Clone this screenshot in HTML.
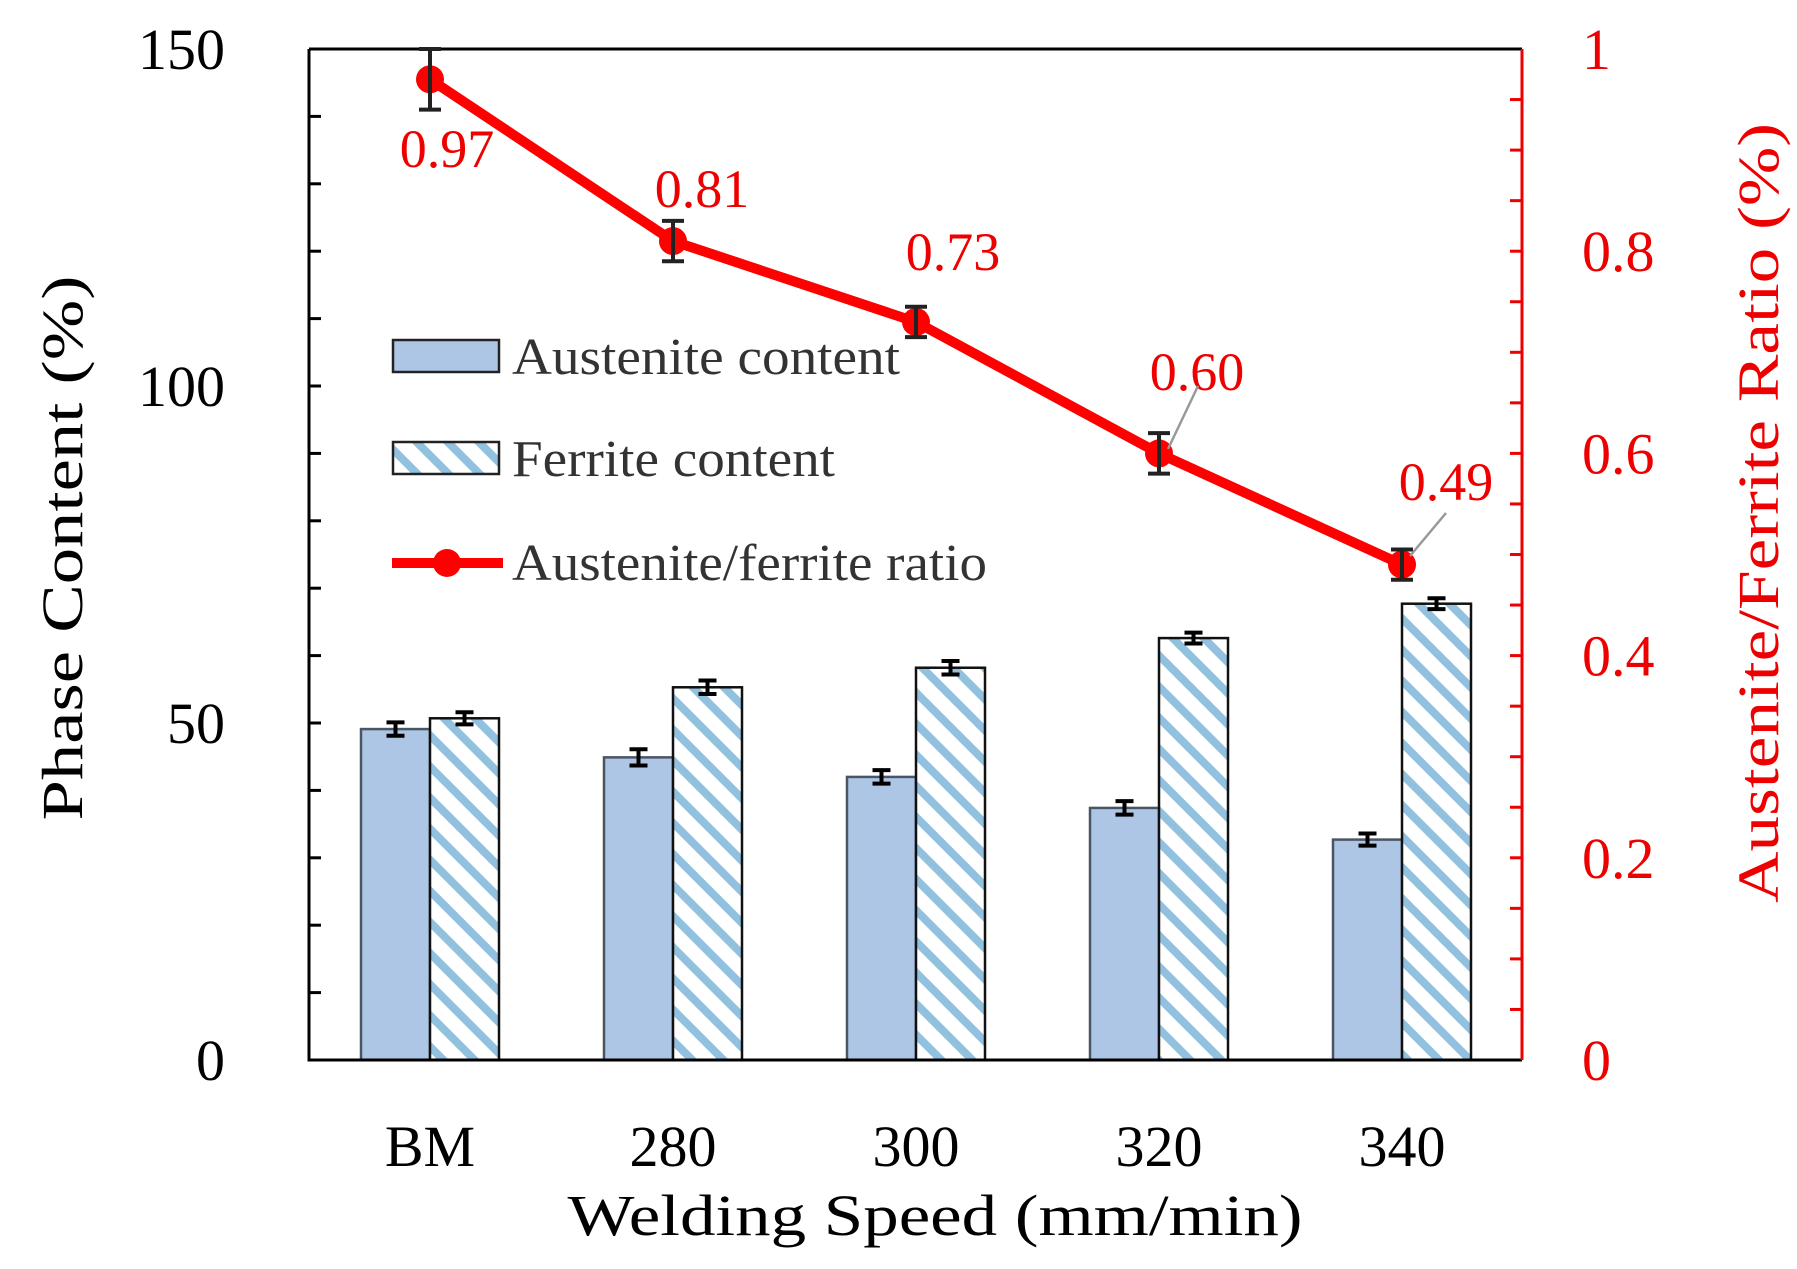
<!DOCTYPE html>
<html><head><meta charset="utf-8"><style>
html,body{margin:0;padding:0;background:#fff}
svg{display:block;font-family:"Liberation Serif",serif}
</style></head><body>
<svg id="chart" width="1797" height="1269" viewBox="0 0 1797 1269" xmlns="http://www.w3.org/2000/svg">
<defs>
<pattern id="hatch" patternUnits="userSpaceOnUse" width="22" height="22" patternTransform="rotate(-45)">
<rect width="22" height="22" fill="#fff"/>
<rect x="0" y="0" width="8" height="22" fill="#92c1e0"/>
</pattern>
</defs>
<g id="plot"></g>
</svg>
<script>
const categories = ["BM","280","300","320","340"];
const austenite = [49.1, 44.9, 42.0, 37.4, 32.7];
const austeniteErr = [1.0, 1.2, 1.0, 1.0, 0.9];
const ferrite = [50.7, 55.3, 58.2, 62.6, 67.7];
const ferriteErr = [0.9, 1.0, 1.0, 0.8, 0.8];
const ratio = [0.97, 0.81, 0.73, 0.60, 0.49];
const ratioErr = [0.03, 0.02, 0.015, 0.02, 0.015];
const ratioLabels = ["0.97","0.81","0.73","0.60","0.49"];
const leftTicks = [0, 50, 100, 150];
const rightTicks = ["0","0.2","0.4","0.6","0.8","1"];

const NS = "http://www.w3.org/2000/svg";
const g = document.getElementById('plot');
const L = 309, R = 1522, T = 49, B = 1060;
const yL = v => B - (v / 150) * (B - T);
const yR = v => B - v * (B - T);
const xC = i => 430 + i * 243;
const BW = 69;
function mk(tag, attrs, parent) {
  const e = document.createElementNS(NS, tag);
  for (const k in attrs) e.setAttribute(k, attrs[k]);
  (parent || g).appendChild(e);
  return e;
}
function txt(s, attrs) { const e = mk('text', attrs); e.textContent = s; return e; }

// bars
categories.forEach((c, i) => {
  const x = xC(i);
  let r = mk('rect', {x: x - BW, y: yL(austenite[i]), width: BW, height: B - yL(austenite[i]), fill: '#aec6e6', stroke: '#4a5563', 'stroke-width': 2.5});
  
  
  r = mk('rect', {x: x, y: yL(ferrite[i]), width: BW, height: B - yL(ferrite[i]), fill: 'url(#hatch)', stroke: '#111', 'stroke-width': 2.5});
  
  
  [[x - BW / 2, austenite[i], austeniteErr[i]], [x + BW / 2, ferrite[i], ferriteErr[i]]].forEach(([cx, v, e]) => {
    const eb = mk('path', {d: `M${cx},${yL(v + e)}V${yL(v - e)}M${cx - 9},${yL(v + e)}H${cx + 9}M${cx - 9},${yL(v - e)}H${cx + 9}`, stroke: '#000', 'stroke-width': 4, fill: 'none'});
    
    
  });
  const t = txt(c, {x: x, y: 1166, 'text-anchor': 'middle', 'font-size': 58});
  
  
});

// axes
let ax = mk('path', {d: `M${L},${T}V${B}H${R}`, stroke: '#000', 'stroke-width': 3, fill: 'none'});


ax = mk('line', {x1: L, y1: T, x2: R, y2: T, stroke: '#000', 'stroke-width': 3});


ax = mk('line', {x1: R, y1: T, x2: R, y2: B, stroke: '#e00', 'stroke-width': 3});


for (let v = 10; v < 150; v += 10) {
  const tk = mk('line', {x1: L, x2: L + 12, y1: yL(v), y2: yL(v), stroke: '#000', 'stroke-width': 3});
  
  
}
for (let k = 1; k < 20; k++) {
  const tk = mk('line', {x1: R - 12, x2: R, y1: yR(k / 20), y2: yR(k / 20), stroke: '#e00', 'stroke-width': 3});
  
  
}
leftTicks.forEach(v => {
  const t = txt(String(v), {x: 225, y: yL(v) + 20, 'text-anchor': 'end', 'font-size': 58});
  
  
});
rightTicks.forEach(s => {
  const t = txt(s, {x: 1582, y: yR(parseFloat(s)) + 20, 'font-size': 58, fill: '#e00'});
  
  
});

// ratio line
const pts = ratio.map((v, i) => `${xC(i)},${yR(v)}`).join(' ');
const pl = mk('polyline', {points: pts, fill: 'none', stroke: '#f00', 'stroke-width': 10, 'stroke-linejoin': 'round'});


const lblPos = [[447, 167], [702, 207], [953, 270], [1197, 390], [1446, 500]];
ratio.forEach((v, i) => {
  const x = xC(i);
  const c = mk('circle', {cx: x, cy: yR(v), r: 14, fill: '#f00'});
  
  
  const e = ratioErr[i];
  const eb = mk('path', {d: `M${x},${yR(v + e)}V${yR(v - e)}M${x - 11},${yR(v + e)}H${x + 11}M${x - 11},${yR(v - e)}H${x + 11}`, stroke: '#222', 'stroke-width': 4, fill: 'none'});
  
  
  const t = txt(ratioLabels[i], {x: lblPos[i][0], y: lblPos[i][1], 'text-anchor': 'middle', 'font-size': 54, fill: '#e00'});
  
  
});
let ld = mk('line', {x1: 1198, y1: 386, x2: 1168, y2: 449, stroke: '#999', 'stroke-width': 2.5});


ld = mk('line', {x1: 1446, y1: 513, x2: 1410, y2: 556, stroke: '#999', 'stroke-width': 2.5});



// legend
let lg = mk('rect', {x: 393, y: 340, width: 106, height: 32, fill: '#aec6e6', stroke: '#222', 'stroke-width': 2.5});


lg = txt('Austenite content', {x: 512, y: 374, 'font-size': 52, fill: '#333', textLength: 388, lengthAdjust: 'spacingAndGlyphs'});


lg = mk('rect', {x: 393, y: 442, width: 106, height: 32, fill: 'url(#hatch)', stroke: '#222', 'stroke-width': 2.5});


lg = txt('Ferrite content', {x: 512, y: 476, 'font-size': 52, fill: '#333', textLength: 323, lengthAdjust: 'spacingAndGlyphs'});


lg = mk('line', {x1: 392, y1: 563, x2: 503, y2: 563, stroke: '#f00', 'stroke-width': 10});


lg = mk('circle', {cx: 447, cy: 563, r: 14, fill: '#f00'});


lg = txt('Austenite/ferrite ratio', {x: 512, y: 580, 'font-size': 52, fill: '#333', textLength: 475, lengthAdjust: 'spacingAndGlyphs'});



// titles
let tt = txt('Welding  Speed (mm/min)', {x: 935, y: 1235, 'text-anchor': 'middle', 'font-size': 58, textLength: 735, lengthAdjust: 'spacingAndGlyphs'});


tt = txt('Phase Content (%)', {x: 0, y: 0, 'text-anchor': 'middle', 'font-size': 58, transform: 'translate(82,548) rotate(-90)', textLength: 545, lengthAdjust: 'spacingAndGlyphs'});


tt = txt('Austenite/Ferrite Ratio (%)', {x: 0, y: 0, 'text-anchor': 'middle', 'font-size': 58, fill: '#e00', transform: 'translate(1778,513) rotate(-90)', textLength: 780, lengthAdjust: 'spacingAndGlyphs'});


</script>
</body></html>
